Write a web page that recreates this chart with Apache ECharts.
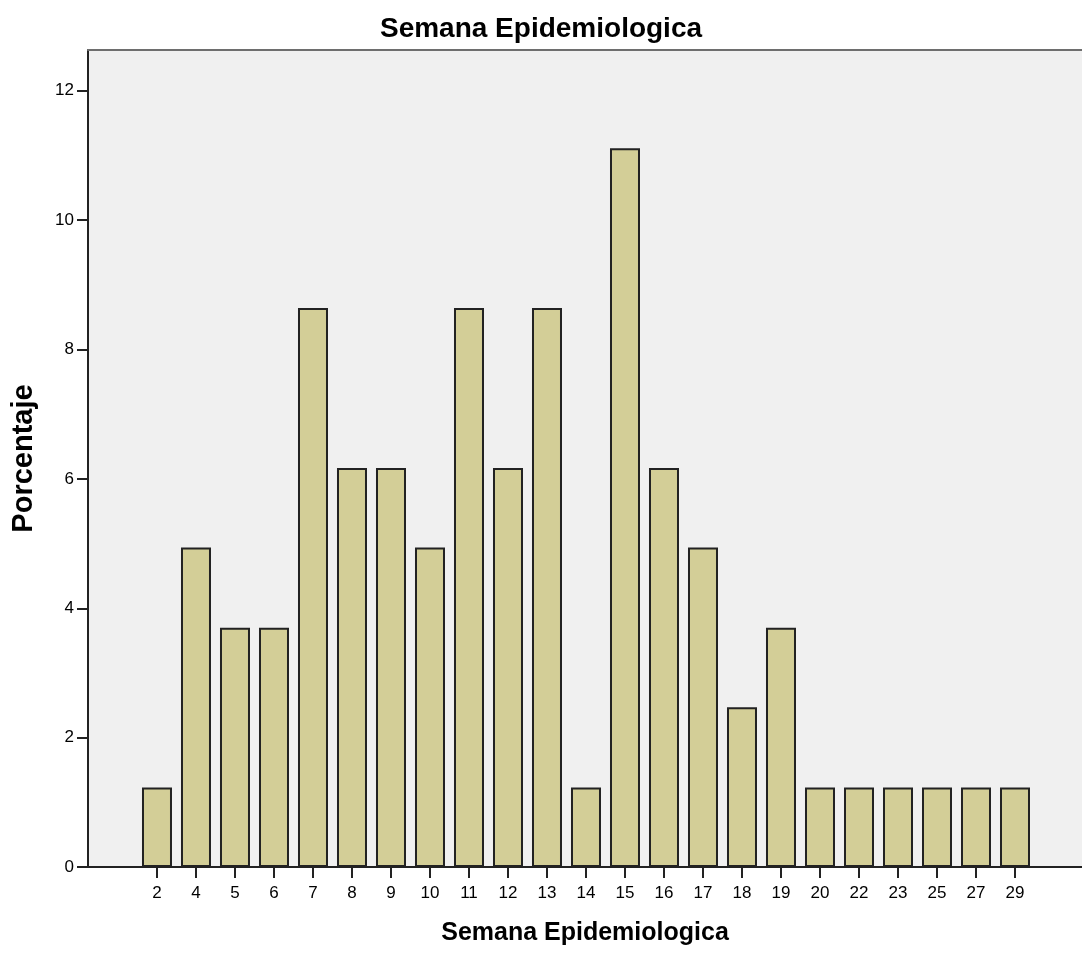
<!DOCTYPE html>
<html>
<head>
<meta charset="utf-8">
<script src="https://cdn.jsdelivr.net/npm/echarts@6/dist/echarts.min.js"></script>
<style>html,body{margin:0;padding:0;background:#fff}#c{width:1082px;height:958px}</style>
</head>
<body>
<div id="c"></div>
<script>
var categories = ['2','4','5','6','7','8','9','10','11','12','13','14','15','16','17','18','19','20','22','23','25','27','29'];
var percentages = [1.23,4.94,3.70,3.70,8.64,6.17,6.17,4.94,8.64,6.17,8.64,1.23,11.11,6.17,4.94,2.47,3.70,1.23,1.23,1.23,1.23,1.23,1.23];
var yTicks = [0,2,4,6,8,10,12];
var chartTitle = 'Semana Epidemiologica';
var xTitle = 'Semana Epidemiologica';
var yTitle = 'Porcentaje';

var catIdx = categories.map(function(c,i){return i;});
var font = 'Liberation Sans';
var chart = echarts.init(document.getElementById('c'));
chart.setOption({
  animation:false,
  title:{text:chartTitle,left:'center',top:10,textStyle:{fontFamily:font,fontWeight:'bold',fontSize:28,color:'#000'}},
  grid:{left:88,top:50,right:0,bottom:91,show:true,backgroundColor:'#f0f0f0',borderWidth:0},
  xAxis:[{
    type:'value',min:-1.769,max:23.718,
    name:xTitle,nameLocation:'middle',nameGap:54,
    nameTextStyle:{fontFamily:font,fontWeight:'bold',fontSize:25,color:'#000'},
    axisLine:{show:true,onZero:false,lineStyle:{color:'#222',width:2}},
    axisTick:{show:true,customValues:catIdx,length:11,lineStyle:{color:'#222',width:2}},
    axisLabel:{customValues:catIdx,formatter:function(v){return categories[Math.round(v)];},fontFamily:font,fontSize:17,color:'#000',margin:18},
    splitLine:{show:false}
  },{
    type:'value',position:'top',min:-1.769,max:23.718,
    axisLine:{show:true,onZero:false,lineStyle:{color:'#6e6e6e',width:2}},
    axisTick:{show:false},axisLabel:{show:false},splitLine:{show:false}
  }],
  yAxis:{
    type:'value',min:0,max:12.63,
    name:yTitle,nameLocation:'middle',nameGap:50,
    nameTextStyle:{fontFamily:font,fontWeight:'bold',fontSize:29,color:'#000'},
    axisLine:{show:true,onZero:false,lineStyle:{color:'#222',width:2}},
    axisTick:{show:true,customValues:yTicks,length:11,lineStyle:{color:'#222',width:2}},
    axisLabel:{customValues:yTicks,fontFamily:font,fontSize:17,color:'#000',margin:14},
    splitLine:{show:false}
  },
  series:[{
    type:'bar',xAxisIndex:0,barWidth:30,
    data:percentages.map(function(v,i){return [i,v];}),
    itemStyle:{color:'#d3ce97',borderColor:'#222',borderWidth:2}
  }]
});
</script>
</body>
</html>
